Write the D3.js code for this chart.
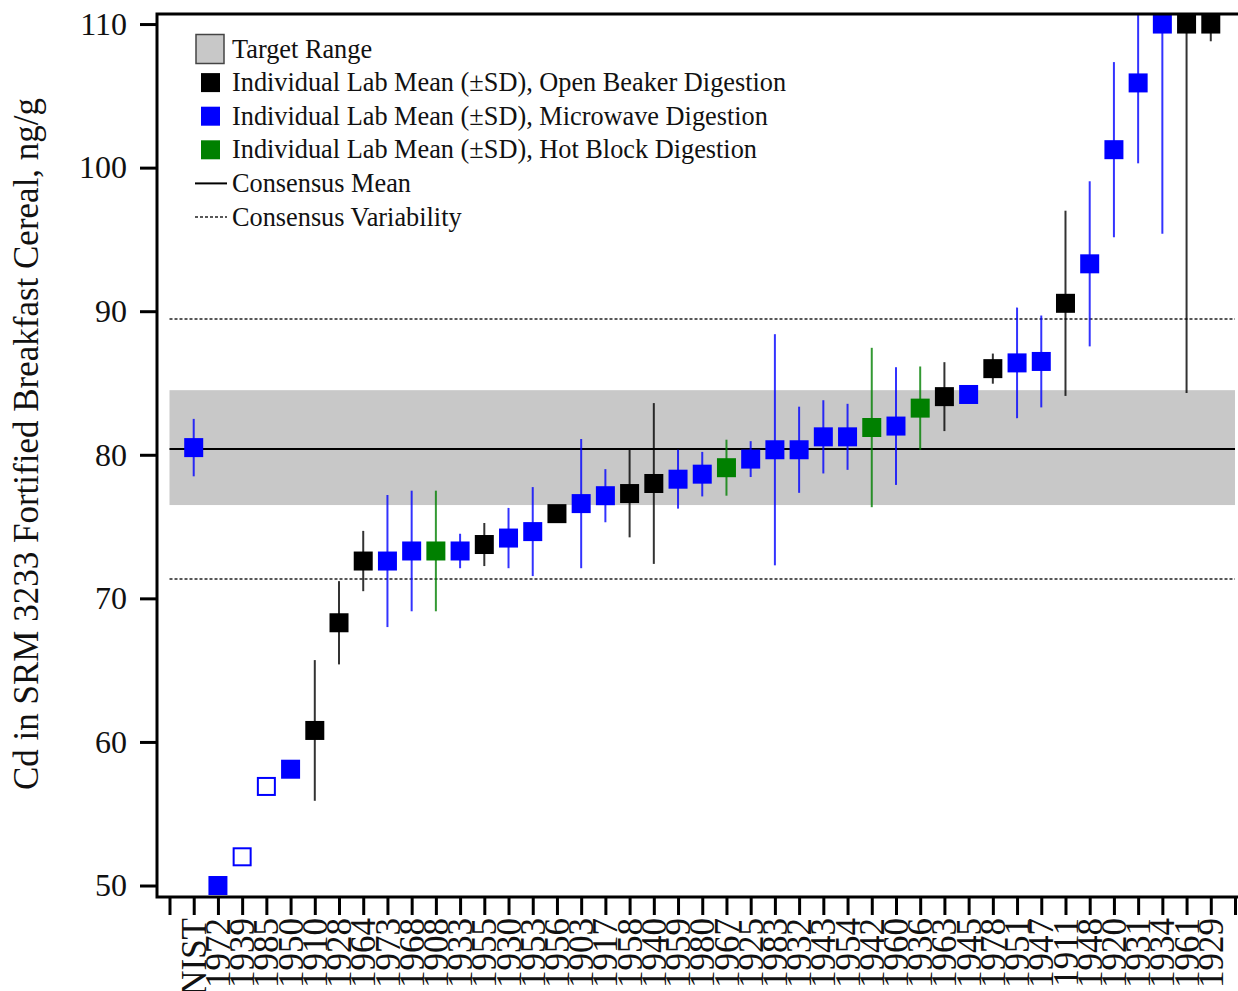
<!DOCTYPE html>
<html>
<head>
<meta charset="utf-8">
<script src="https://cdn.jsdelivr.net/npm/d3@7"></script>
<style>
  body { margin: 0; background: #fff; }
  svg { display: block; font-family: "Liberation Serif", "Times New Roman", serif; }
</style>
</head>
<body>
<div class="chart-div"></div>
<script>
// lab codes along the x axis, in plotted order
const labs = ["NIST", "1972", "1939", "1985", "1950", "1910", "1928", "1964", "1973", "1968",
  "1908", "1933", "1955", "1930", "1953", "1956", "1903", "1917", "1958", "1940",
  "1959", "1980", "1967", "1925", "1983", "1932", "1943", "1954", "1942", "1960",
  "1936", "1963", "1945", "1978", "1951", "1947", "1911", "1948", "1920", "1931",
  "1934", "1961", "1929"];
// lab means, ng/g (values above 110 sit on the top edge)
const means = [80.5, 50.0, 52.0, 56.9, 58.1, 60.8, 68.3, 72.6, 72.6, 73.3,
  73.3, 73.3, 73.75, 74.2, 74.65, 75.9, 76.6, 77.15, 77.3, 78.0,
  78.3, 78.65, 79.1, 79.7, 80.35, 80.35, 81.25, 81.25, 81.9, 82.0,
  83.25, 84.05, 84.2, 86.0, 86.4, 86.5, 90.55, 93.3, 101.25, 105.9,
  110, 110, 110];
// lab standard deviations
const sds = [2.0, 0, 0, 0, 0, 4.9, 2.9, 2.1, 4.6, 4.2,
  4.2, 1.2, 1.5, 2.1, 3.1, 0.5, 4.5, 1.85, 3.05, 5.6,
  2.05, 1.55, 1.95, 1.25, 8.05, 3.0, 2.55, 2.3, 5.55, 4.1,
  2.9, 2.4, 0.5, 1.05, 3.85, 3.2, 6.45, 5.75, 6.1, 5.6,
  14.6, 25.7, 1.2];
// digestion: B = open beaker, M = microwave, H = hot block
const methods = ["M", "M", "M", "M", "M", "B", "B", "B", "M", "M",
  "H", "M", "B", "M", "M", "B", "M", "M", "B", "B",
  "M", "M", "H", "M", "M", "M", "M", "M", "H", "M",
  "H", "B", "M", "B", "M", "M", "B", "M", "M", "M",
  "M", "B", "B"];
// open (hollow) markers
const hollowLabs = ["1939", "1985"];

const consensusMean = 80.4;
const consensusVariability = [71.35, 89.45];
const targetRange = [76.5, 84.5];
const yTicks = [50, 60, 70, 80, 90, 100, 110];

const legendLabels = ["Target Range",
  "Individual Lab Mean (\u00B1SD), Open Beaker Digestion",
  "Individual Lab Mean (\u00B1SD), Microwave Digestion",
  "Individual Lab Mean (\u00B1SD), Hot Block Digestion",
  "Consensus Mean",
  "Consensus Variability"];

const methodColor = { B: "#000000", M: "#0000ff", H: "#008000" };

const svgWidth = 1238;
const svgHeight = 991;
// plot frame
const frame = { left: 157, right: 1238, top: 14, bottom: 897 };

const data = labs.map((lab, i) => ({
  lab: lab,
  idx: i + 1,
  mean: means[i],
  sd: sds[i],
  method: methods[i],
  hollow: hollowLabs.includes(lab)
}));

// scales
const x = d3.scaleLinear().domain([0, 44]).range([169.5, 1235]);
const y = d3.scaleLinear().domain([49.2, 110.7]).range([frame.bottom, frame.top]);

const svg = d3.select(".chart-div")
  .append("svg")
  .attr("width", svgWidth)
  .attr("height", svgHeight);

svg.append("defs").append("clipPath")
  .attr("id", "plot-clip")
  .append("rect")
  .attr("x", frame.left)
  .attr("y", frame.top)
  .attr("width", frame.right - frame.left)
  .attr("height", frame.bottom - frame.top);

const plot = svg.append("g").attr("clip-path", "url(#plot-clip)");

// target range band
plot.append("rect")
  .attr("x", x(0))
  .attr("y", y(targetRange[1]))
  .attr("width", x(44) - x(0))
  .attr("height", y(targetRange[0]) - y(targetRange[1]))
  .attr("fill", "#c8c8c8");

// consensus variability
plot.selectAll(".var-line")
  .data(consensusVariability)
  .enter()
  .append("line")
  .attr("class", "var-line")
  .attr("x1", x(0))
  .attr("x2", x(44))
  .attr("y1", d => y(d))
  .attr("y2", d => y(d))
  .attr("stroke", "#222")
  .attr("stroke-width", 1.5)
  .attr("stroke-dasharray", "3,2");

// consensus mean
plot.append("line")
  .attr("x1", x(0))
  .attr("x2", x(44))
  .attr("y1", y(consensusMean))
  .attr("y2", y(consensusMean))
  .attr("stroke", "#000")
  .attr("stroke-width", 2);

// error bars
plot.selectAll(".err")
  .data(data.filter(d => d.sd > 0))
  .enter()
  .append("line")
  .attr("class", "err")
  .attr("x1", d => x(d.idx))
  .attr("x2", d => x(d.idx))
  .attr("y1", d => y(d.mean - d.sd))
  .attr("y2", d => y(d.mean + d.sd))
  .attr("stroke", d => methodColor[d.method])
  .attr("stroke-opacity", 0.8)
  .attr("stroke-width", 2);

// lab means
const sq = 19;
plot.selectAll(".pt")
  .data(data)
  .enter()
  .append("rect")
  .attr("class", "pt")
  .attr("x", d => x(d.idx) - (d.hollow ? sq - 2 : sq) / 2)
  .attr("y", d => y(d.mean) - (d.hollow ? sq - 2 : sq) / 2)
  .attr("width", d => d.hollow ? sq - 2 : sq)
  .attr("height", d => d.hollow ? sq - 2 : sq)
  .attr("fill", d => d.hollow ? "#fff" : methodColor[d.method])
  .attr("stroke", d => d.hollow ? methodColor[d.method] : "none")
  .attr("stroke-width", 2);

// y axis
const yAxis = svg.append("g")
  .attr("transform", "translate(" + frame.left + ",0)")
  .call(d3.axisLeft(y).tickValues(yTicks).tickSize(17).tickPadding(13));
yAxis.select(".domain").remove();
yAxis.selectAll(".tick line").attr("stroke", "#000").attr("stroke-width", 3);
yAxis.selectAll(".tick text")
  .attr("fill", "#111")
  .style("font-size", "32px")
  .style("font-family", "Liberation Serif, serif");

// x axis with rotated lab codes
const xAxis = svg.append("g")
  .attr("transform", "translate(0," + frame.bottom + ")")
  .call(d3.axisBottom(x)
    .tickValues(d3.range(0, 45))
    .tickSize(18)
    .tickFormat(i => (i >= 1 && i <= labs.length ? labs[i - 1] : "")));
xAxis.select(".domain").remove();
xAxis.selectAll(".tick line").attr("stroke", "#000").attr("stroke-width", 3);
xAxis.selectAll(".tick text")
  .attr("transform", "rotate(-90)")
  .attr("text-anchor", "end")
  .attr("x", -21)
  .attr("y", 0)
  .attr("dy", "0.33em")
  .attr("fill", "#111")
  .style("font-size", "35px")
  .style("font-family", "Liberation Serif, serif");

// frame lines: left, bottom, top
svg.append("path")
  .attr("d", "M" + frame.right + "," + frame.top + "H" + frame.left +
    "V" + frame.bottom + "H" + frame.right)
  .attr("fill", "none")
  .attr("stroke", "#000")
  .attr("stroke-width", 3);

// y axis title
svg.append("text")
  .attr("transform", "translate(38,444) rotate(-90)")
  .attr("text-anchor", "middle")
  .attr("fill", "#111")
  .style("font-size", "35px")
  .text("Cd in SRM 3233 Fortified Breakfast Cereal, ng/g");

// legend
const legend = svg.append("g").attr("class", "legend");
const rowY = i => 49 + i * 33.6;

legend.append("rect")
  .attr("x", 196).attr("y", rowY(0) - 14.5)
  .attr("width", 28).attr("height", 29)
  .attr("fill", "#c8c8c8")
  .attr("stroke", "#444")
  .attr("stroke-width", 1.5);

["B", "M", "H"].forEach((m, i) => {
  legend.append("rect")
    .attr("x", 201).attr("y", rowY(i + 1) - 9.5)
    .attr("width", 19).attr("height", 19)
    .attr("fill", methodColor[m]);
});

legend.append("line")
  .attr("x1", 195).attr("x2", 227)
  .attr("y1", rowY(4)).attr("y2", rowY(4))
  .attr("stroke", "#000").attr("stroke-width", 2);

legend.append("line")
  .attr("x1", 195).attr("x2", 227)
  .attr("y1", rowY(5)).attr("y2", rowY(5))
  .attr("stroke", "#222").attr("stroke-width", 1.5)
  .attr("stroke-dasharray", "3,2");

legend.selectAll(".legend-text")
  .data(legendLabels)
  .enter()
  .append("text")
  .attr("class", "legend-text")
  .attr("x", 232)
  .attr("y", (d, i) => rowY(i))
  .attr("dy", "0.33em")
  .attr("fill", "#111")
  .style("font-size", "26.3px")
  .text(d => d);
</script>
</body>
</html>
